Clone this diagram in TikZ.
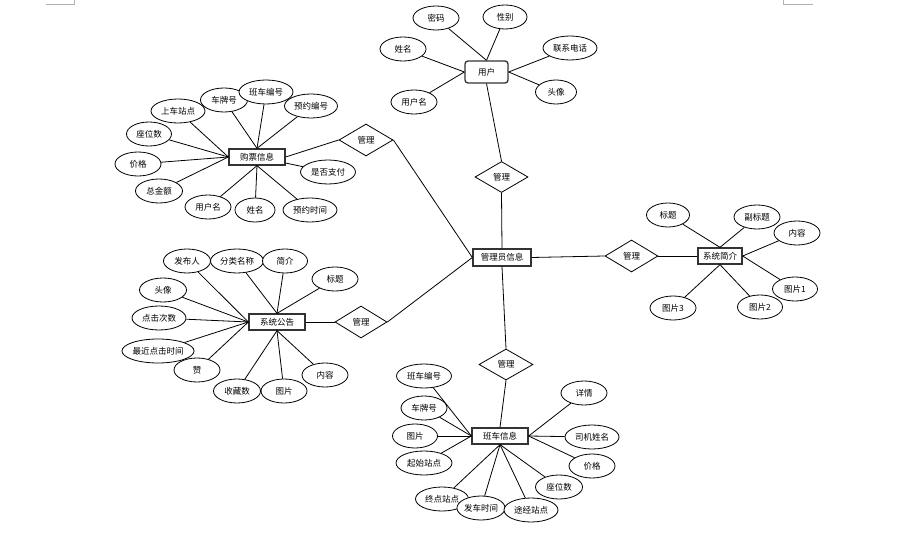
\documentclass[tikz,border=0pt]{standalone}
\usepackage{fontspec}
\setmainfont{Noto Sans CJK SC}
\usetikzlibrary{shapes.geometric}

\tikzset{
  attr/.style={ellipse, draw, fill=white, line width=0.8pt, inner sep=0pt, minimum height=24pt},
  ent/.style={rectangle, draw=black!80, fill=white, line width=1.3pt, inner sep=0pt, minimum height=16pt},
  rel/.style={diamond, draw, fill=white, line width=0.8pt, inner sep=0pt},
  conn/.style={line width=0.8pt}
}

\begin{document}
\begin{tikzpicture}[x=1pt, y=-1pt, every node/.style={font=\fontsize{8.5}{9}\selectfont}]
  \useasboundingbox (0,0) rectangle (901,534);
  % 页面角标
  \draw[gray!60, line width=0.8pt] (46,4) -- (74,4) -- (74,0);
  \draw[gray!60, line width=0.8pt] (783,0) -- (783,4) -- (813,4);

  % 实体
  \node[ent, minimum width=58pt, minimum height=17pt] (admin) at (502,257.5) {管理员信息};
  \node[ent, rounded corners=3pt, minimum width=43pt, minimum height=22pt] (user) at (486.5,72) {用户};
  \node[ent, minimum width=56pt] (gp) at (257,157) {购票信息};
  \node[ent, minimum width=56pt] (gg) at (277,322) {系统公告};
  \node[ent, minimum width=56pt] (bc) at (500,436) {班车信息};
  \node[ent, minimum width=44pt] (jj) at (720,256) {系统简介};

  % 联系
  \node[rel, minimum width=53pt, minimum height=31pt] (mu) at (501.5,177) {管理};
  \node[rel, minimum width=54pt, minimum height=32pt] (mg) at (366,140) {管理};
  \node[rel, minimum width=52pt, minimum height=32pt] (ma) at (361,322) {管理};
  \node[rel, minimum width=54pt, minimum height=31pt] (mb) at (506,364.5) {管理};
  \node[rel, minimum width=53pt, minimum height=32pt] (mj) at (631.5,256) {管理};

  % 用户属性
  \node[attr, minimum width=46pt] (u1) at (436,18) {密码};
  \node[attr, minimum width=44pt] (u2) at (505,17) {性别};
  \node[attr, minimum width=46pt] (u3) at (403,49) {姓名};
  \node[attr, minimum width=46pt] (u4) at (414,102) {用户名};
  \node[attr, minimum width=54pt] (u5) at (570,48) {联系电话};
  \node[attr, minimum width=41pt] (u6) at (556,92) {头像};

  % 购票信息属性
  \node[attr, minimum width=54pt] (g1) at (178,111) {上车站点};
  \node[attr, minimum width=47pt] (g2) at (224,100) {车牌号};
  \node[attr, minimum width=54pt] (g3) at (266,92) {班车编号};
  \node[attr, minimum width=53pt] (g4) at (311,106) {预约编号};
  \node[attr, minimum width=45pt] (g5) at (149,134) {座位数};
  \node[attr, minimum width=46pt] (g6) at (138,164) {价格};
  \node[attr, minimum width=47pt] (g7) at (159,191) {总金额};
  \node[attr, minimum width=46pt] (g8) at (208,207) {用户名};
  \node[attr, minimum width=40pt] (g9) at (255,210) {姓名};
  \node[attr, minimum width=54pt] (g10) at (310,210) {预约时间};
  \node[attr, minimum width=55pt] (g11) at (328,172) {是否支付};

  % 系统公告属性
  \node[attr, minimum width=47pt] (a1) at (187,261) {发布人};
  \node[attr, minimum width=53pt] (a2) at (237,261) {分类名称};
  \node[attr, minimum width=45pt] (a3) at (285,261) {简介};
  \node[attr, minimum width=46pt] (a4) at (335,279) {标题};
  \node[attr, minimum width=47pt] (a5) at (163,290) {头像};
  \node[attr, minimum width=54pt] (a6) at (159,318) {点击次数};
  \node[attr, minimum width=46pt] (a8) at (197,370) {赞};
  \node[attr, minimum width=70pt] (a7) at (158,351) {最近点击时间};
  \node[attr, minimum width=47pt] (a9) at (237,391) {收藏数};
  \node[attr, minimum width=46pt] (a10) at (284,391) {图片};
  \node[attr, minimum width=46pt] (a11) at (325,375) {内容};

  % 班车信息属性
  \node[attr, minimum width=55pt] (b1) at (424,376) {班车编号};
  \node[attr, minimum width=46pt] (b2) at (424,408) {车牌号};
  \node[attr, minimum width=45pt] (b3) at (415,436) {图片};
  \node[attr, minimum width=56pt] (b4) at (424,463) {起始站点};
  \node[attr, minimum width=53pt] (b5) at (442,499) {终点站点};
  \node[attr, minimum width=47pt] (b6) at (481,508) {发车时间};
  \node[attr, minimum width=54pt] (b7) at (531,510) {途经站点};
  \node[attr, minimum width=47pt] (b8) at (559,487) {座位数};
  \node[attr, minimum width=46pt] (b9) at (592,466) {价格};
  \node[attr, minimum width=54pt] (b10) at (592,437) {司机姓名};
  \node[attr, minimum width=46pt] (b11) at (584,393) {详情};

  % 系统简介属性
  \node[attr, minimum width=43pt] (j1) at (668,215) {标题};
  \node[attr, minimum width=46pt] (j2) at (757,217) {副标题};
  \node[attr, minimum width=46pt] (j3) at (797,233) {内容};
  \node[attr, minimum width=45pt] (j4) at (795,289) {图片1};
  \node[attr, minimum width=45pt] (j5) at (760,307) {图片2};
  \node[attr, minimum width=46pt] (j6) at (673,308) {图片3};

  % 连线
  \draw[conn] (user.south) -- (mu.north);
  \draw[conn] (mu.south) -- (admin.north);
  \draw[conn] (gp.east) -- (mg.west);
  \draw[conn] (mg.east) -- (admin.west);
  \draw[conn] (gg.east) -- (ma.west);
  \draw[conn] (ma.east) -- (admin.west);
  \draw[conn] (admin.south) -- (mb.north);
  \draw[conn] (mb.south) -- (bc.north);
  \draw[conn] (admin.east) -- (mj.west);
  \draw[conn] (mj.east) -- (jj.west);

  \foreach \n/\a in {u1/north, u2/north, u3/west, u4/west, u5/east, u6/east}
    \draw[conn] (\n) -- (user.\a);
  \foreach \n/\a in {g1/west, g2/north, g3/north, g4/north, g5/west, g6/west, g7/west, g8/south, g9/south, g10/south}
    \draw[conn] (\n) -- (gp.\a);
  \draw[conn] (g11) -- (gp);
  \foreach \n/\a in {a1/west, a2/north, a3/north, a4/north, a5/west, a6/west, a7/west, a8/west, a9/south, a10/south, a11/south}
    \draw[conn] (\n) -- (gg.\a);
  \foreach \n/\a in {b1/west, b2/west, b3/west, b4/west, b5/south, b6/south, b7/south, b8/south, b9/east, b10/east, b11/east}
    \draw[conn] (\n) -- (bc.\a);
  \foreach \n/\a in {j1/north, j2/north, j3/east, j4/east, j5/south, j6/south}
    \draw[conn] (\n) -- (jj.\a);
\end{tikzpicture}
\end{document}
